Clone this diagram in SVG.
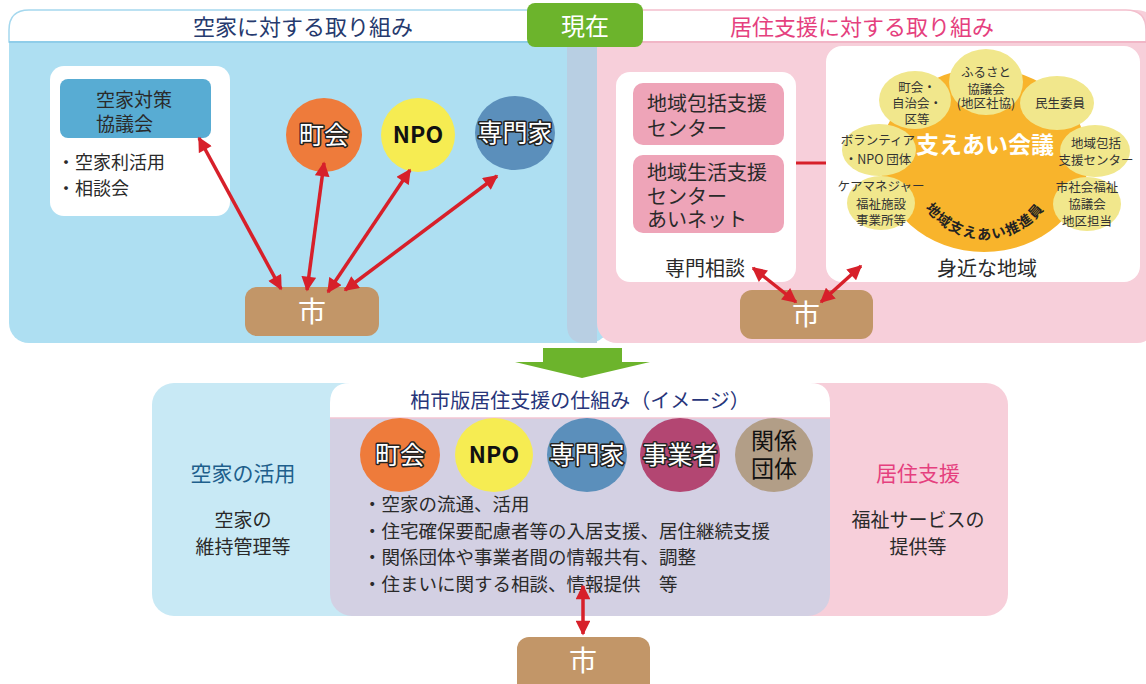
<svg xmlns="http://www.w3.org/2000/svg" width="1146" height="684" viewBox="0 0 1146 684">
<defs>
<style>
text{font-family:"Noto Sans CJK JP","Noto Sans",sans-serif}
.arr{stroke:#d7202a;stroke-width:3.5;fill:none;marker-start:url(#ah);marker-end:url(#ah)}
.ci{font-size:25px;fill:#fff;stroke:#222;stroke-width:3px;paint-order:stroke;stroke-linejoin:round;text-anchor:middle}
.cb{font-size:23px;fill:#111;text-anchor:middle}
.dk{fill:#2a2a2a}
.mid{text-anchor:middle}
.sm{font-size:12.5px;fill:#333;text-anchor:middle}
.yl{fill:#f1e78c}
.city{fill:#c29668}
.cityt{font-size:28px;fill:#fff;text-anchor:middle}
</style>
<marker id="ah" viewBox="0 0 10 10" refX="9" refY="5" markerWidth="4.4" markerHeight="4.2" orient="auto-start-reverse" markerUnits="strokeWidth">
<path d="M0,0 L10,5 L0,10 z" fill="#d7202a"/>
</marker>
<path id="arcp" d="M912,166 A73,73 0 0 0 1058,166"/>
</defs>
<rect width="1146" height="684" fill="#fff"/>

<!-- top left panel -->
<g id="panel-akiya">
<rect x="9" y="10" width="600" height="333" rx="20" fill="#aedff2"/>
<path d="M9,42 V30 Q9,10 29,10 H600 V42 Z" fill="#fff" stroke="#a5d8ee" stroke-width="1.5"/>
<line x1="9" y1="42" x2="600" y2="42" stroke="#8fcde9" stroke-width="2"/>
<text x="303" y="35" class="mid" font-size="22" fill="#263a6e">空家に対する取り組み</text>
</g>

<!-- top right panel -->
<g id="panel-kyoju">
<rect x="597" y="10" width="560" height="333" rx="20" fill="#f7cfda"/>
<path d="M597,42 V10 H1126 Q1146,10 1146,30 V42 Z" fill="#fff" stroke="#f3bfcd" stroke-width="1.5"/>
<line x1="597" y1="42" x2="1146" y2="42" stroke="#f1b6c6" stroke-width="2"/>
<path d="M567,42 H597 V343 H585 Q567,343 567,325 Z" fill="#b8cfe3"/>
<text x="862" y="35" class="mid" font-size="22" fill="#e5407e">居住支援に対する取り組み</text>
</g>

<g id="genzai">
<rect x="527" y="3" width="116" height="44" rx="8" fill="#6cb42c"/>
<text x="585" y="35" class="mid" font-size="24" fill="#fff">現在</text>
</g>

<!-- left contents -->
<g id="kyogikai">
<rect x="50" y="66" width="180" height="150" rx="14" fill="#fff"/>
<rect x="60" y="79" width="151" height="59" rx="8" fill="#58acd3"/>
<text x="96" y="107" font-size="19" class="dk">空家対策</text>
<text x="96" y="131" font-size="19" class="dk">協議会</text>
<text x="57" y="169" font-size="18" class="dk">・空家利活用</text>
<text x="57" y="195" font-size="18" class="dk">・相談会</text>
</g>
<g id="chokai-top">
<ellipse cx="324" cy="135" rx="38" ry="37" fill="#ee7b3b"/>
<text x="324" y="144" class="ci">町会</text>
</g>
<g id="npo-top">
<ellipse cx="418" cy="135" rx="37" ry="37" fill="#f6ec52"/>
<text x="418" y="143" class="cb" font-weight="bold">NPO</text>
</g>
<g id="senmonka-top">
<ellipse cx="515" cy="133" rx="40" ry="37" fill="#5b8fbb"/>
<text x="515" y="142" class="ci">専門家</text>
</g>
<g id="city-top">
<rect x="245" y="287" width="134" height="49" rx="12" class="city"/>
<text x="312" y="322" class="cityt">市</text>
</g>

<!-- right contents -->
<g id="senmon-sodan">
<rect x="616" y="72" width="180" height="210" rx="14" fill="#fff"/>
<rect x="633" y="83" width="151" height="62" rx="10" fill="#eea4b8"/>
<rect x="633" y="155" width="151" height="78" rx="10" fill="#eea4b8"/>
<text x="647" y="111" font-size="20" class="dk">地域包括支援</text>
<text x="647" y="136" font-size="20" class="dk">センター</text>
<text x="647" y="180" font-size="20" class="dk">地域生活支援</text>
<text x="647" y="204" font-size="20" class="dk">センター</text>
<text x="647" y="227" font-size="20" class="dk">あいネット</text>
<text x="705" y="276" font-size="20" class="dk mid">専門相談</text>
</g>
<g id="chiiki">
<rect x="826" y="46" width="314" height="236" rx="16" fill="#fff"/>
<ellipse cx="984" cy="160" rx="104" ry="92" fill="#f8b42c"/>
<ellipse cx="915" cy="100" rx="36" ry="29" class="yl"/>
<ellipse cx="986" cy="82" rx="37" ry="33" class="yl"/>
<ellipse cx="1057" cy="103" rx="37" ry="27" class="yl"/>
<ellipse cx="879" cy="150" rx="37" ry="26" class="yl"/>
<ellipse cx="1095" cy="151" rx="35" ry="26" class="yl"/>
<ellipse cx="881" cy="203" rx="34" ry="27" class="yl"/>
<ellipse cx="1087" cy="204" rx="34" ry="27" class="yl"/>
<text x="917" y="92" class="sm">町会・</text>
<text x="917" y="108" class="sm">自治会・</text>
<text x="917" y="124" class="sm">区等</text>
<text x="986" y="77" class="sm">ふるさと</text>
<text x="986" y="94" class="sm">協議会</text>
<text x="986" y="108" class="sm" font-size="10.5">(地区社協)</text>
<text x="1060" y="108" class="sm" font-size="13">民生委員</text>
<text x="878" y="145" class="sm" font-size="12">ボランティア</text>
<text x="878" y="164" class="sm" font-size="12">・NPO 団体</text>
<text x="1096" y="148" class="sm">地域包括</text>
<text x="1096" y="165" class="sm" font-size="12">支援センター</text>
<text x="881" y="191" class="sm" font-size="10.5">ケアマネジャー</text>
<text x="881" y="209" class="sm">福祉施設</text>
<text x="881" y="225" class="sm">事業所等</text>
<text x="1087" y="192" class="sm">市社会福祉</text>
<text x="1087" y="209" class="sm">協議会</text>
<text x="1087" y="226" class="sm">地区担当</text>
<text x="985" y="153" class="mid" font-size="23" font-weight="bold" fill="#fff">支えあい会議</text>
<text font-size="14" font-weight="bold" fill="#222" letter-spacing="1.5"><textPath href="#arcp" startOffset="50%" text-anchor="middle">地域支えあい推進員</textPath></text>
<text x="987" y="276" font-size="20" class="dk mid">身近な地域</text>
</g>
<g id="city-right">
<rect x="740" y="290" width="133" height="49" rx="12" class="city"/>
<text x="806" y="325" class="cityt">市</text>
</g>

<!-- green arrow -->
<g id="down-arrow">
<polygon points="543,348 622,348 622,362 650,362 582,378 515,362 543,362" fill="#6cb42c"/>
</g>

<!-- bottom -->
<g id="akiya-katsuyo">
<rect x="152" y="383" width="260" height="233" rx="22" fill="#c8e9f5"/>
<text x="243" y="481" font-size="21" class="mid" fill="#1e5f8c">空家の活用</text>
<text x="243" y="527" font-size="19" class="dk mid">空家の</text>
<text x="243" y="554" font-size="19" class="dk mid">維持管理等</text>
</g>
<g id="kyoju-shien">
<rect x="750" y="383" width="258" height="233" rx="22" fill="#f7cfda"/>
<text x="918" y="481" font-size="21" class="mid" fill="#e5407e">居住支援</text>
<text x="918" y="527" font-size="19" class="dk mid">福祉サービスの</text>
<text x="918" y="554" font-size="19" class="dk mid">提供等</text>
</g>
<g id="shikumi">
<rect x="330" y="383" width="500" height="233" rx="22" fill="#d3d0e3"/>
<path d="M330,418 V403 Q330,383 350,383 H810 Q830,383 830,403 V418 Z" fill="#fff"/>
<line x1="330" y1="418" x2="830" y2="418" stroke="#f3c6d3" stroke-width="1.5"/>
<text x="580" y="408" font-size="20" class="mid" fill="#27357a">柏市版居住支援の仕組み（イメージ）</text>
<ellipse cx="400" cy="455" rx="40" ry="37" fill="#ee7b3b"/>
<text x="400" y="464" class="ci">町会</text>
<ellipse cx="494" cy="455" rx="39" ry="37" fill="#f6ec52"/>
<text x="494" y="463" class="cb" font-weight="bold">NPO</text>
<ellipse cx="587" cy="455" rx="40" ry="37" fill="#5b8fbb"/>
<text x="587" y="464" class="ci">専門家</text>
<ellipse cx="680" cy="455" rx="40" ry="37" fill="#b34672"/>
<text x="680" y="464" class="ci">事業者</text>
<ellipse cx="774" cy="455" rx="39" ry="37" fill="#b29e87"/>
<text x="774" y="449" class="cb" font-size="21">関係</text>
<text x="774" y="477" class="cb" font-size="21">団体</text>
<text x="363" y="511" font-size="18.5" class="dk">・空家の流通、活用</text>
<text x="363" y="538" font-size="18.5" class="dk">・住宅確保要配慮者等の入居支援、居住継続支援</text>
<text x="363" y="564" font-size="18.5" class="dk">・関係団体や事業者間の情報共有、調整</text>
<text x="363" y="591" font-size="18.5" class="dk">・住まいに関する相談、情報提供　等</text>
</g>
<g id="city-bottom">
<rect x="517" y="637" width="133" height="60" rx="12" class="city"/>
<text x="583" y="671" class="cityt">市</text>
</g>

<!-- connectors -->
<g id="connectors">
<line x1="199" y1="138" x2="281" y2="289" class="arr"/>
<line x1="324" y1="163" x2="307" y2="290" class="arr"/>
<line x1="410" y1="170" x2="328" y2="292" class="arr"/>
<line x1="497" y1="176" x2="345" y2="290" class="arr"/>
<line x1="796" y1="163" x2="826" y2="163" stroke="#d7202a" stroke-width="3"/>
<line x1="753" y1="268" x2="796" y2="302" class="arr"/>
<line x1="861" y1="266" x2="821" y2="302" class="arr"/>
<line x1="583" y1="586" x2="583" y2="634" class="arr"/>
</g>
</svg>
